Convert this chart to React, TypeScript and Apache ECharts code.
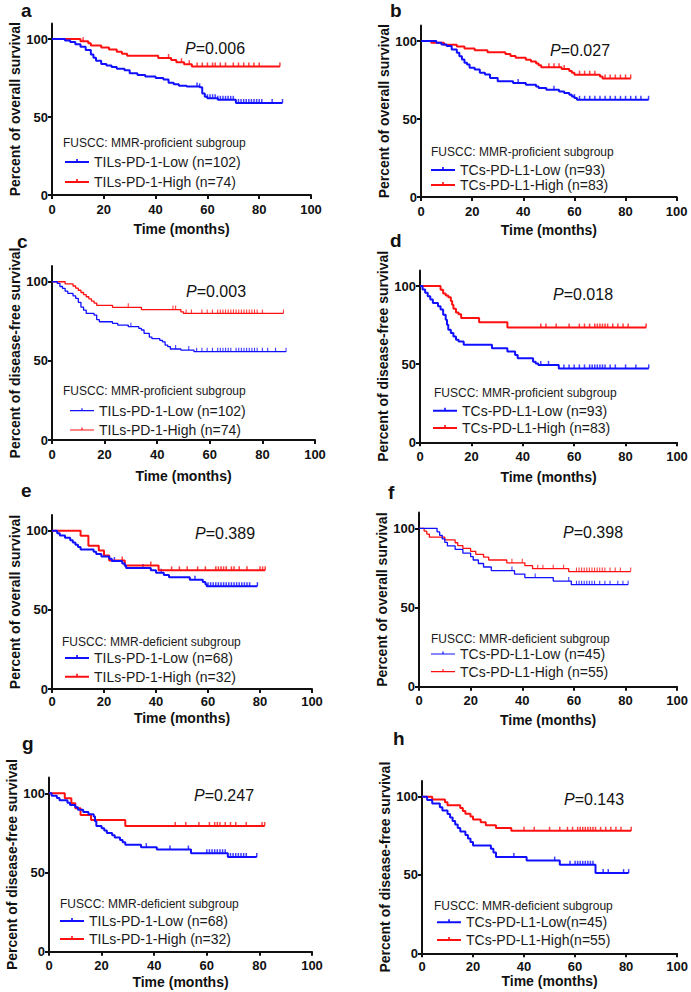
import React, { useEffect, useRef } from 'react';
import * as echarts from 'echarts';

// ---------- data (time in months, survival in %) ----------
const xTicks = [0, 20, 40, 60, 80, 100];
const yTicks = [0, 50, 100];

// a: OS, MMR-proficient, TILs PD-1
const aLow = [[0,100],[5,99],[7,98],[9,96.6],[11,95],[13,93],[15,90],[16,88],[17,86],[19,84],[21,83],[23,82],[25,81],[28,80],[30,78],[33,77],[36,76],[40,75],[43,74],[45,72],[47,71],[49,70],[52,69.5],[57,69],[58,65],[59,63],[60,62],[64,61],[71,59],[89,59]];
const aLowCensor = [56,57,60,61,62,63,64,65,66,67,68,69,70,72,73,74,75,76,77,78,79,80,81,85,89];
const aHigh = [[0,100],[11,98.6],[14,97.3],[15,95.9],[19,94.6],[22,93.2],[25,91.9],[27,90.5],[29,89.2],[41,87.8],[46,86.5],[48,85.1],[51,83.8],[54,82.4],[88,82.4]];
const aHighCensor = [12,45,50,53,56,58,60,62,63,65,67,70,72,74,76,78,80,88];

// b: OS, MMR-proficient, TCs PD-L1
const bLow = [[0,100],[6,98.9],[8,97.8],[10,96.8],[12,94.6],[14,92.5],[15,90.3],[16,88.2],[17,86],[18,84.9],[19,82.8],[21,81.7],[23,79.6],[25,78.5],[27,76.3],[30,74.2],[36,73.1],[41,72],[45,70.9],[46,69.9],[49,68.8],[54,67.7],[56,66.7],[58,65.6],[59,64.5],[60,63.4],[61,62.3],[89,62.3]];
const bLowCensor = [38,52,60,62,64,66,68,70,72,74,76,78,80,82,84,86,89];
const bHigh = [[0,100],[4,98.8],[9,97.6],[14,96.4],[17,95.2],[21,94],[26,92.8],[33,91.6],[35,90.4],[37,89.2],[41,88],[43,86.8],[45,85.6],[46,84.4],[47,83.2],[55,82],[58,80.8],[59,79.6],[60,78.4],[70,77.2],[71,76],[82,76]];
const bHighCensor = [50,52,54,56,62,64,66,68,72,74,76,78,80,82];

// c: DFS, MMR-proficient, TILs PD-1
const cLow = [[0,100],[2,99],[3,97],[4,95.8],[5,94],[6,92.6],[8,91],[9,89.5],[10,87],[11,84],[12,82],[13,80],[16,78.9],[17,76],[18,74.7],[23,73.7],[25,72.6],[29,71.6],[33,70.5],[34,69.5],[35,67.4],[37,65],[38,64],[41,63],[42,62],[43,60],[44,59],[45,57.5],[49,56.8],[54,55.8],[89,55.8]];
const cLowCensor = [30,47,52,55,57,59,61,63,64,65,66,67,68,70,71,72,73,74,75,76,77,78,80,82,85,89];
const cHigh = [[0,100],[5,98.6],[8,97.3],[9,95.9],[10,94.6],[11,93.2],[12,91.9],[13,90.5],[14,89.2],[15,87.8],[16,86.5],[17,85.1],[23,83.8],[34,82.4],[49,81],[50,80],[88,80]];
const cHighCensor = [29,46,47,51,53,57,59,61,63,64,65,66,67,68,69,70,71,72,73,74,75,76,77,78,80,88];

// d: DFS, MMR-proficient, TCs PD-L1
const dLow = [[0,100],[1,97.8],[2,95.7],[3,93.5],[4,91.4],[5,89.2],[7,87],[8,84.9],[9,81.7],[10,78.5],[10.5,75.3],[11,72],[12,69.9],[13,67.7],[14,65.6],[15,64.5],[17,62.4],[28,60.2],[34,58.1],[37,55.9],[38,53.8],[44,51.6],[45,50.5],[46,49.5],[54,47.3],[89,47.3]];
const dLowCensor = [47,50,56,58,60,62,64,66,67,68,69,70,71,72,74,76,80,84,89];
const dHigh = [[0,100],[8,97.6],[9,95.2],[10,94],[11,92.8],[12,90.4],[12.5,88],[13,85.5],[14,83.1],[15,81.9],[16,79.5],[23,76.8],[34,73.4],[88,73.4]];
const dHighCensor = [47,49,53,58,62,64,66,68,69,70,71,72,73,75,77,79,81,88];

// e: OS, MMR-deficient, TILs PD-1
const eLow = [[0,100],[2,98.5],[3,97.1],[5,95.6],[7,94.1],[8,92.6],[9,91.2],[10,89.7],[11,88.2],[16,86.8],[17,85.3],[19,83.8],[22,82.4],[23,80.9],[27,79.4],[28,77.9],[28.5,76.5],[38,75],[40,73.5],[43,72.1],[45,70.6],[53,69.1],[58,67.6],[59,66.2],[59.5,65],[79,65]];
const eLowCensor = [24,35,42,55,60,61,62,63,64,65,66,67,68,69,70,71,72,73,74,75,76,79];
const eHigh = [[0,100],[11,96.9],[14,90.6],[18,87.5],[20,84.4],[22,81.3],[28,78.1],[41,75],[82,75]];
const eHighCensor = [27,38,46,49,52,56,59,63,64,65,66,67,69,70,72,75,80,81,82];

// f: OS, MMR-deficient, TCs PD-L1
const fLow = [[0,100],[7,97.8],[8,95.6],[9,93.3],[10,91.1],[11,88.9],[14,86.7],[17,84.4],[20,82.2],[21,80],[23,77.8],[25,75.6],[28,73.3],[37,71.1],[41,68.9],[52,66.7],[59,64.4],[81,64.4]];
const fLowCensor = [36,45,58,61,62,63,64,65,66,67,68,70,72,74,77,79,81];
const fHigh = [[0,100],[2,98.2],[3,96.4],[4,94.5],[10,92.7],[14,90.9],[15,89.1],[17,87.3],[20,85.5],[22,83.6],[25,81.8],[27,80],[34,78.2],[41,76.4],[44,74.5],[58,72.7],[82,72.7]];
const fHighCensor = [36,40,46,48,52,56,61,62,63,64,65,66,67,68,69,70,71,72,74,76,78,82];

// g: DFS, MMR-deficient, TILs PD-1
const gLow = [[0,100],[1,98.5],[3,97.1],[4,95.6],[7,94.1],[8,92.6],[10,91.2],[11,89.7],[13,88.2],[15,86.8],[17,85.3],[17.5,82.4],[18,79.4],[20,77.9],[21,76.5],[22,75],[24,73.5],[25,72.1],[27,70.6],[28,69.1],[29,67.6],[35,66],[41,64.5],[54,62.2],[68,59.8],[79,59.8]];
const gLowCensor = [37,46,53,60,61,62,63,64,65,66,67,69,70,71,72,73,74,75,79];
const gHigh = [[0,100],[6,96.9],[8.5,93.8],[10,90.6],[12,86.3],[16,83.2],[29,79.4],[82,79.4]];
const gHighCensor = [48,52,57,61,63,64,65,67,69,71,75,81,82];

// h: DFS, MMR-deficient, TCs PD-L1
const hLow = [[0,100],[2,97.8],[4,95.6],[7,93.3],[8,91.1],[10,88.9],[11,86.7],[12,84.4],[13,82.2],[14,80],[15,77.8],[17,75.6],[18,73.3],[19,71.1],[20,68.9],[27,66.7],[28,64.4],[29,61.5],[41,59.2],[54,56.5],[68,51.2],[81,51.2]];
const hLowCensor = [36,52,58,60,61,62,63,64,65,66,67,71,73,79,81];
const hHigh = [[0,100],[4,98.2],[9,96.4],[10,94.5],[15,92.7],[16,90.9],[17,89.1],[19,87.3],[20,85.5],[23,83.6],[25,81.8],[29,80],[35,78.2],[82,78.2]];
const hHighCensor = [40,44,50,54,57,59,61,62,63,64,65,66,67,68,70,72,74,76,78,82];

const letters = ['a', 'b', 'c', 'd', 'e', 'f', 'g', 'h'];
const pValues = ['0.006', '0.027', '0.003', '0.018', '0.389', '0.398', '0.247', '0.143'];
const yTitles = [
  'Percent of overall survival', 'Percent of overall survival',
  'Percent of disease-free survival', 'Percent of disease-free survival',
  'Percent of overall survival', 'Percent of overall survival',
  'Percent of disease-free survival', 'Percent of disease-free survival',
];
const subtitles = [
  'FUSCC: MMR-proficient subgroup', 'FUSCC: MMR-proficient subgroup',
  'FUSCC: MMR-proficient subgroup', 'FUSCC: MMR-proficient subgroup',
  'FUSCC: MMR-deficient subgroup', 'FUSCC: MMR-deficient subgroup',
  'FUSCC: MMR-deficient subgroup', 'FUSCC: MMR-deficient subgroup',
];
const lowNames = [
  'TILs-PD-1-Low (n=102)', 'TCs-PD-L1-Low (n=93)', 'TILs-PD-1-Low (n=102)', 'TCs-PD-L1-Low (n=93)',
  'TILs-PD-1-Low (n=68)', 'TCs-PD-L1-Low (n=45)', 'TILs-PD-1-Low (n=68)', 'TCs-PD-L1-Low(n=45)',
];
const highNames = [
  'TILs-PD-1-High (n=74)', 'TCs-PD-L1-High (n=83)', 'TILs-PD-1-High (n=74)', 'TCs-PD-L1-High (n=83)',
  'TILs-PD-1-High (n=32)', 'TCs-PD-L1-High (n=55)', 'TILs-PD-1-High (n=32)', 'TCs-PD-L1-High(n=55)',
];
const lowCurves = [aLow, bLow, cLow, dLow, eLow, fLow, gLow, hLow];
const highCurves = [aHigh, bHigh, cHigh, dHigh, eHigh, fHigh, gHigh, hHigh];
const lowCensors = [aLowCensor, bLowCensor, cLowCensor, dLowCensor, eLowCensor, fLowCensor, gLowCensor, hLowCensor];
const highCensors = [aHighCensor, bHighCensor, cHighCensor, dHighCensor, eHighCensor, fHighCensor, gHighCensor, hHighCensor];

// ---------- layout (pixels) ----------
const LAYOUT = [
  { left: 52, top: 23.4, width: 259, height: 171.6, lx: 21, ly: 10, px: 185, py: 48, sx: 63, sy: 143, gx: 65, gy: 162, pitch: 20, lw: 2, xGap: 27, xMargin: 8 },
  { left: 421, top: 25.4, width: 255.7, height: 171.6, lx: 390, ly: 10.5, px: 550, py: 50.5, sx: 431, sy: 152, gx: 431, gy: 170, pitch: 15, lw: 2, xGap: 26, xMargin: 8 },
  { left: 52, top: 265.9, width: 263, height: 174.1, lx: 17, ly: 241.5, px: 186, py: 291, sx: 63, sy: 391, gx: 70, gy: 410.7, pitch: 19.3, lw: 1.3, xGap: 29, xMargin: 8 },
  { left: 420, top: 270.4, width: 257, height: 171.9, lx: 390, ly: 240, px: 553, py: 294.3, sx: 434, sy: 392.7, gx: 433, gy: 410.7, pitch: 17.3, lw: 2, xGap: 28, xMargin: 8 },
  { left: 52, top: 515, width: 260, height: 174, lx: 21, ly: 490.5, px: 195, py: 533.3, sx: 62, sy: 641.7, gx: 65, gy: 658, pitch: 18.7, lw: 2, xGap: 22, xMargin: 6 },
  { left: 419, top: 512.5, width: 260, height: 174.2, lx: 388, ly: 492.5, px: 563, py: 532.2, sx: 431, sy: 639, gx: 431, gy: 654, pitch: 17.7, lw: 1.3, xGap: 26, xMargin: 7 },
  { left: 49, top: 777.5, width: 263, height: 174.2, lx: 22, ly: 743, px: 194, py: 795.5, sx: 60, sy: 904, gx: 60, gy: 921, pitch: 18, lw: 2, xGap: 23, xMargin: 7 },
  { left: 422, top: 781, width: 256, height: 172.3, lx: 393, ly: 738, px: 564, py: 799.7, sx: 434, sy: 905.7, gx: 437, gy: 922.3, pitch: 17.7, lw: 2, xGap: 21, xMargin: 7 },
];

const FONT = '"Liberation Sans", Arial, Helvetica, sans-serif';
const BLUE = '#1010ff';
const RED = '#ff1010';
const INK = '#111111';

function stepAt(curve: number[][], t: number): number {
  let s = curve[0][1];
  for (const [x, y] of curve) {
    if (x <= t) s = y;
    else break;
  }
  return s;
}

function legendIcon(thin: boolean): string {
  return thin
    ? 'path://M0,4.4H24V5.6H0Z M11.4,2.5H12.6V5.6H11.4Z M0,0H0.01V10H0Z'
    : 'path://M0,4H24V6H0Z M11.2,2H12.8V6H11.2Z M0,0H0.01V10H0Z';
}

function buildOption() {
  const grid: any[] = [];
  const xAxis: any[] = [];
  const yAxis: any[] = [];
  const series: any[] = [];
  const legend: any[] = [];
  const graphic: any[] = [];

  LAYOUT.forEach((L, i) => {
    grid.push({ left: L.left, top: L.top, width: L.width, height: L.height, containLabel: false });
    xAxis.push({
      gridIndex: i, type: 'value', min: 0, max: 100, interval: 20,
      name: 'Time (months)', nameLocation: 'middle', nameGap: L.xGap,
      nameTextStyle: { fontSize: 14, fontWeight: 'bold', color: INK, fontFamily: FONT },
      axisLine: { show: true, onZero: false, lineStyle: { color: INK, width: 2 } },
      axisTick: { show: true, length: 4, lineStyle: { color: INK, width: 2 }, customValues: xTicks },
      axisLabel: { fontSize: 13, fontWeight: 'bold', color: INK, fontFamily: FONT, margin: L.xMargin, customValues: xTicks },
      splitLine: { show: false },
    });
    yAxis.push({
      gridIndex: i, type: 'value', min: 0, max: 110, interval: 50,
      name: yTitles[i], nameLocation: 'middle', nameGap: 29,
      nameTextStyle: { fontSize: 14, fontWeight: 'bold', color: INK, fontFamily: FONT },
      axisLine: { show: true, onZero: false, lineStyle: { color: INK, width: 2 } },
      axisTick: { show: true, length: 4, lineStyle: { color: INK, width: 2 }, customValues: yTicks },
      axisLabel: { fontSize: 13, fontWeight: 'bold', color: INK, fontFamily: FONT, margin: 4, customValues: yTicks },
      splitLine: { show: false },
    });

    const groups = [
      { name: highNames[i], curve: highCurves[i], censor: highCensors[i], color: RED, tag: 'High' },
      { name: lowNames[i], curve: lowCurves[i], censor: lowCensors[i], color: BLUE, tag: 'Low' },
    ];
    groups.forEach((g) => {
      series.push({
        type: 'line', name: g.name, xAxisIndex: i, yAxisIndex: i,
        data: g.curve, step: 'end', symbol: 'none', showSymbol: false,
        color: g.color, lineStyle: { color: g.color, width: L.lw }, silent: true,
      });
      series.push({
        type: 'scatter', name: letters[i] + '-' + g.tag + '-censored', xAxisIndex: i, yAxisIndex: i,
        data: g.censor.map((t) => [t, stepAt(g.curve, t)]),
        symbol: 'rect', symbolSize: [L.lw > 1.5 ? 1.5 : 1.1, 4], symbolOffset: [0, -2],
        itemStyle: { color: g.color }, silent: true,
      });
    });

    const thin = L.lw < 1.5;
    legend.push({
      left: L.gx, top: L.gy - 7, orient: 'vertical', padding: 0,
      itemWidth: 24, itemHeight: 10, itemGap: L.pitch - 14, selectedMode: false,
      textStyle: { fontSize: 14, lineHeight: 14, color: '#1a1a1a', fontFamily: FONT },
      data: [
        { name: lowNames[i], icon: legendIcon(thin), itemStyle: { color: BLUE, borderWidth: 0 } },
        { name: highNames[i], icon: legendIcon(thin), itemStyle: { color: RED, borderWidth: 0 } },
      ],
    });

    graphic.push({
      type: 'text', x: L.lx, y: L.ly, silent: true,
      style: { text: letters[i], fontSize: 19, fontWeight: 'bold', fontFamily: FONT, fill: INK, align: 'left', verticalAlign: 'middle' },
    });
    graphic.push({
      type: 'text', x: L.px, y: L.py, silent: true,
      style: {
        text: '{i|P}{n|=' + pValues[i] + '}',
        fontSize: 16, fontFamily: FONT, fill: INK, align: 'left', verticalAlign: 'middle',
        rich: {
          i: { fontStyle: 'italic', fontSize: 16, fontFamily: FONT, fill: INK },
          n: { fontSize: 16, fontFamily: FONT, fill: INK },
        },
      },
    });
    graphic.push({
      type: 'text', x: L.sx, y: L.sy, silent: true,
      style: { text: subtitles[i], fontSize: 12, fontFamily: FONT, fill: '#1a1a1a', align: 'left', verticalAlign: 'middle' },
    });
  });

  return {
    animation: false,
    backgroundColor: '#ffffff',
    textStyle: { fontFamily: FONT },
    grid, xAxis, yAxis, series, legend, graphic,
  };
}

export default function App() {
  const ref = useRef<HTMLDivElement>(null);
  useEffect(() => {
    if (!ref.current) return;
    const chart = echarts.init(ref.current, null, { renderer: 'svg' });
    chart.setOption(buildOption());
    return () => chart.dispose();
  }, []);
  return (
    <div
      ref={ref}
      style={{ position: 'absolute', left: 0, top: 0, width: 691, height: 992, background: '#fff' }}
    />
  );
}
